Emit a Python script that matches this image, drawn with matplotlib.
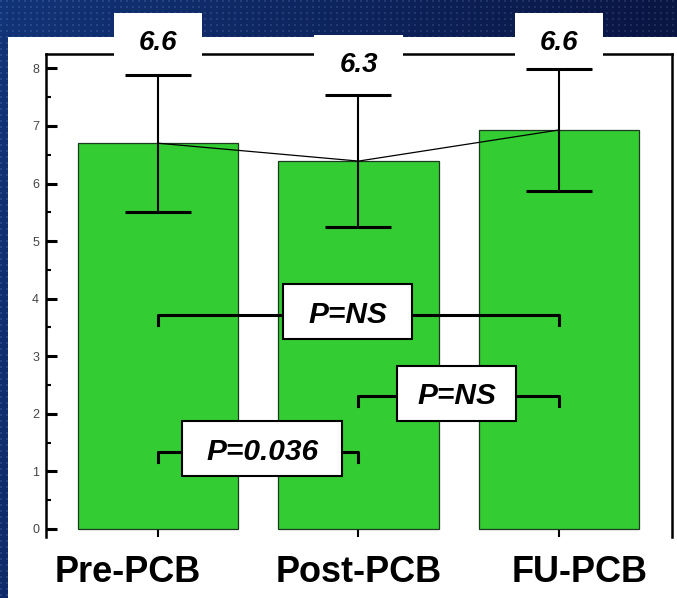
import numpy as np
import matplotlib
matplotlib.use("Agg")
import matplotlib.pyplot as plt
import matplotlib.transforms as mtransforms
from matplotlib.patches import Rectangle
from matplotlib.ticker import MultipleLocator

# ---- data ----
groups = ["Pre-PCB", "Post-PCB", "FU-PCB"]
means = [6.70, 6.39, 6.93]
sd = [1.19, 1.15, 1.06]
mean_labels = ["6.6", "6.3", "6.6"]
comp_pairs = [(0, 2), (1, 2), (0, 1)]
comp_labels = ["P=NS", "P=NS", "P=0.036"]

# ---- layout ----
W, H = 677, 598
bracket_y = [3.72, 2.31, 1.34]
box_shift = [-0.055, -0.01, 0.02]
box_pad = [25, 20, 24]
label_y = [8.49, 8.11, 8.49]
group_shift = [-0.152, 0.0, 0.105]

plt.rcParams["font.family"] = ["Liberation Sans", "DejaVu Sans"]

fig = plt.figure(figsize=(W / 100, H / 100), dpi=100)

# dark navy dotted backdrop
gx = np.linspace(0, 1, W)[None, :]
gy = np.linspace(0, 1, H)[:, None]
t = np.clip(0.85 * gx + 0.25 * gy, 0, 1)[..., None]
c_left = np.array([18, 52, 120])
c_right = np.array([8, 16, 58])
bg = c_left * (1 - t) + c_right * t
dots = ((np.arange(H) % 6 < 2)[:, None] & (np.arange(W) % 6 < 2)[None, :])
bg = bg + dots[..., None] * 22
fig.figimage(np.clip(bg, 0, 255).astype(np.uint8), 0, 0, origin="upper", zorder=-2)

# white panel
fig.add_artist(Rectangle((8 / W, 0), 1 - 8 / W, (H - 37) / H, transform=fig.transFigure,
                         facecolor="white", edgecolor="none", zorder=-1))

ax = fig.add_axes([46 / W, (H - 537) / H, (672 - 46) / W, (537 - 54) / H])
ax.set_facecolor("white")
x = np.arange(len(groups))

ax.bar(x, means, width=0.8, color="#33CC33", edgecolor="#1e3a1e", linewidth=0.9, zorder=2)
ax.errorbar(x, means, yerr=sd, fmt="none", ecolor="black", elinewidth=1.5,
            capsize=24, capthick=2.2, zorder=3)
ax.plot(x, means, color="black", lw=0.9, zorder=3)

ax.set_xlim(-0.56, 2.565)
ax.set_ylim(-0.14, 8.25)

for side in ["left", "top", "right"]:
    ax.spines[side].set_linewidth(1.8)
ax.spines["bottom"].set_visible(False)

ax.set_xticks(x)
ax.set_xticklabels([])
ax.tick_params(axis="x", direction="in", length=6, width=1.5, top=False, bottom=True)
ax.yaxis.set_major_locator(MultipleLocator(1))
ax.yaxis.set_minor_locator(MultipleLocator(0.5))
ax.tick_params(axis="y", which="major", direction="in", length=8, width=2.2,
               labelsize=9, labelcolor="#444444", pad=5, right=False)
ax.tick_params(axis="y", which="minor", direction="in", length=3.6, width=1.5, right=False)

# group names below the chart
lab_tr = mtransforms.blended_transform_factory(ax.transData, fig.transFigure)
for i, g in enumerate(groups):
    ax.text(x[i] + group_shift[i], (H - 582) / H, g, transform=lab_tr, ha="center",
            va="baseline", fontsize=26, fontweight="bold", color="black", clip_on=False)


def boxed_label(xc, yc, s, size, edge, h_px, pad_px=25):
    tr = mtransforms.offset_copy(ax.transData, fig=fig, y=-0.716 * size / 2, units="points")
    txt = ax.text(xc, yc, s, transform=tr, ha="center", va="baseline", fontsize=size,
                  fontweight="bold", fontstyle="italic", zorder=6, clip_on=False)
    return txt, (xc, yc, edge, h_px, pad_px)


labels = []
for i in range(len(groups)):
    labels.append(boxed_label(x[i], label_y[i], mean_labels[i], 20, False, 54))

for k, ((a, b), by, s) in enumerate(zip(comp_pairs, bracket_y, comp_labels)):
    ax.plot([x[a], x[a], x[b], x[b]], [by - 0.17, by, by, by - 0.17], color="black",
            lw=2.2, zorder=4, solid_joinstyle="round")
    labels.append(boxed_label((x[a] + x[b]) / 2 + box_shift[k], by + 0.05, s, 21.5,
                              True, 55, box_pad[k]))

fig.canvas.draw()
renderer = fig.canvas.get_renderer()
inv = ax.transData.inverted()
for txt, (xc, yc, edge, h_px, pad_px) in labels:
    bb = txt.get_window_extent(renderer=renderer)
    cx = (bb.x0 + bb.x1) / 2
    cy = ax.transData.transform((xc, yc))[1]
    w = bb.width + 2 * pad_px
    x0, y0 = inv.transform((cx - w / 2, cy - h_px / 2))
    x1, y1 = inv.transform((cx + w / 2, cy + h_px / 2))
    ax.add_patch(Rectangle((x0, y0), x1 - x0, y1 - y0, facecolor="white",
                           edgecolor="black" if edge else "none", linewidth=1.5,
                           zorder=5 if edge else 2.6, clip_on=False))

fig.savefig("out.png", dpi=100)
